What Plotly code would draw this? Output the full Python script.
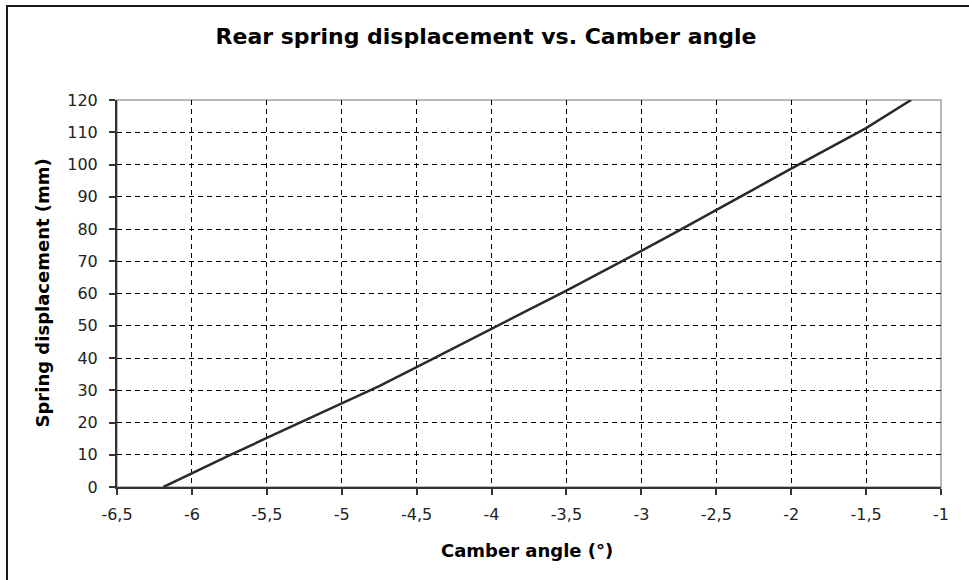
import plotly.graph_objects as go

camber_angle = [-6.19, -6.0, -5.75, -5.5, -5.25, -5.0, -4.75, -4.5, -4.25, -4.0, -3.75,
                -3.5, -3.25, -3.0, -2.75, -2.5, -2.25, -2.0, -1.75, -1.5, -1.2]
spring_disp = [0.0, 4.3, 9.8, 15.2, 20.5, 25.9, 31.3, 37.2, 43.2, 49.1, 55.0,
               60.9, 67.0, 73.2, 79.5, 86.0, 92.3, 98.7, 105.0, 111.3, 120.0]

x_tickvals = [-6.5, -6, -5.5, -5, -4.5, -4, -3.5, -3, -2.5, -2, -1.5, -1]
x_ticktext = ["-6,5", "-6", "-5,5", "-5", "-4,5", "-4", "-3,5", "-3", "-2,5", "-2", "-1,5", "-1"]
y_tickvals = list(range(0, 121, 10))

W, H = 969, 580
L, R, T, B = 117, 28, 100, 93
pw, ph = W - L - R, H - T - B

def px(x):
    return (x - L) / pw

def py(y):
    return (H - B - y) / ph

fig = go.Figure()
fig.add_trace(go.Scatter(
    x=camber_angle, y=spring_disp, mode="lines",
    line=dict(color="#2a2a2a", width=2.5), showlegend=False, cliponaxis=False,
))

font_family = "DejaVu Sans"
fig.update_layout(
    width=W, height=H,
    margin=dict(l=L, r=R, t=T, b=B),
    paper_bgcolor="white", plot_bgcolor="white",
    font=dict(family=font_family, color="#111"),
    title=dict(text="<b>Rear spring displacement vs. Camber angle</b>",
               x=(486 - L) / pw, xref="paper", xanchor="center",
               y=(H - 36) / H, yref="container", yanchor="middle",
               font=dict(size=22, family=font_family, color="#000")),
    xaxis=dict(range=[-6.5, -1], tickvals=x_tickvals, ticktext=x_ticktext,
               showgrid=True, gridcolor="#000", gridwidth=1, griddash="5px,4px",
               showline=True, linecolor="#333", linewidth=2,
               ticks="outside", ticklen=6, tickwidth=1.5, tickcolor="#333",
               ticklabelstandoff=6,
               tickfont=dict(size=16, color="#222"), zeroline=False, fixedrange=True),
    yaxis=dict(range=[0, 120], tickvals=y_tickvals,
               showgrid=True, gridcolor="#000", gridwidth=1, griddash="5px,4px",
               showline=True, linecolor="#333", linewidth=2,
               ticks="outside", ticklen=6, tickwidth=1.5, tickcolor="#333",
               ticklabelstandoff=8,
               tickfont=dict(size=16, color="#222"), zeroline=False, fixedrange=True),
    shapes=[
        dict(type="rect", xref="paper", yref="paper", x0=0, x1=1, y0=0, y1=1,
             line=dict(color="#a0a0a0", width=1.5), layer="below"),
        dict(type="rect", xref="paper", yref="paper",
             x0=px(7), x1=px(W + 10), y0=py(H + 10), y1=py(6),
             line=dict(color="#1a1a1a", width=2)),
    ],
    annotations=[
        dict(text="<b>Camber angle (°)</b>", xref="paper", yref="paper",
             x=(527 - L) / pw, y=py(550), xanchor="center", yanchor="middle",
             showarrow=False, font=dict(size=18, color="#000")),
        dict(text="<b>Spring displacement (mm)</b>", xref="paper", yref="paper",
             x=px(42), y=0.5, xanchor="center", yanchor="middle", textangle=-90,
             showarrow=False, font=dict(size=18, color="#000")),
    ],
)

fig.write_html("out.html", config={"displayModeBar": False},
               post_script="document.body.style.margin='0px';")
